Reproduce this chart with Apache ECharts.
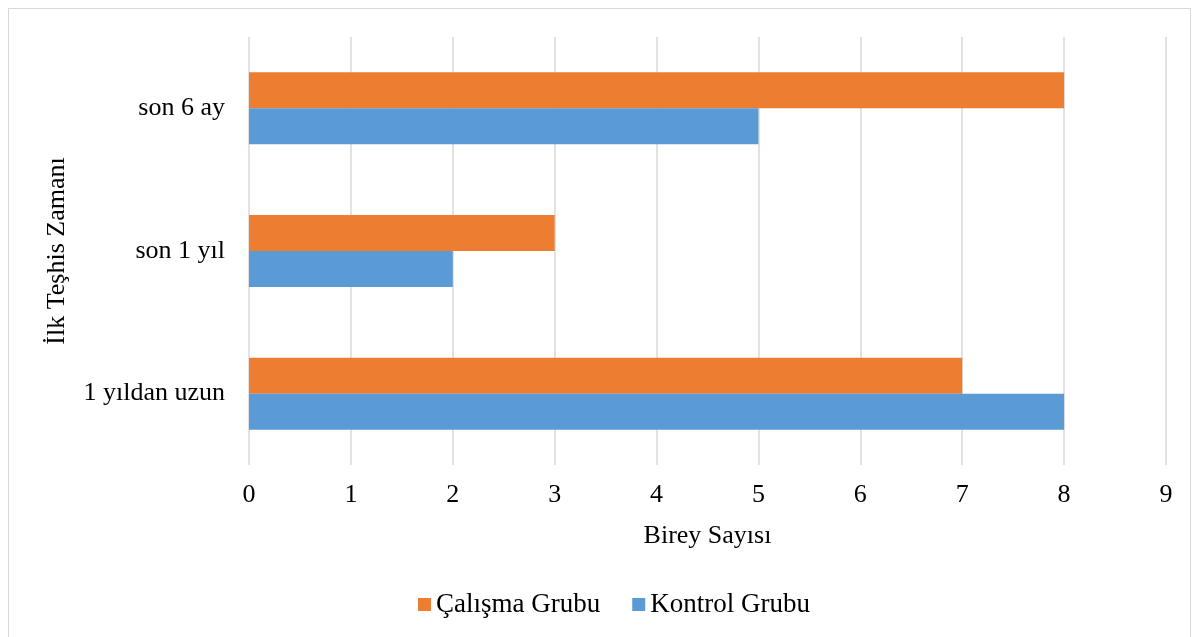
<!DOCTYPE html>
<html>
<head>
<meta charset="utf-8">
<script src="https://cdn.jsdelivr.net/npm/echarts@6/dist/echarts.min.js"></script>
<style>
  html, body { margin: 0; padding: 0; background: #fff; overflow: hidden; }
  #frame { position: absolute; left: 8px; top: 8px; width: 1181px; height: 660px; border: 1px solid #d9d9d9; }
  #main-chart { position: absolute; left: 0; top: 0; width: 1200px; height: 637px; }
</style>
</head>
<body>
<div id="frame"></div>
<div id="main-chart"></div>
<script>
// kategoriler alttan üste
const categories = ['1 yıldan uzun', 'son 1 yıl', 'son 6 ay'];
const kontrolGrubu = [8, 2, 5];
const calismaGrubu = [7, 3, 8];
const xTicks = [0, 1, 2, 3, 4, 5, 6, 7, 8, 9];

const font = 'Liberation Serif, Times New Roman, serif';
let chart = echarts.init(document.getElementById('main-chart'));

chart.setOption({
    backgroundColor: 'transparent',
    textStyle: { fontFamily: font },
    legend: {
        data: ['Çalışma Grubu', 'Kontrol Grubu'],
        bottom: 14,
        left: 413,
        itemWidth: 13,
        itemHeight: 13,
        itemGap: 32,
        itemTextGap: 4,
        icon: 'rect',
        textStyle: { fontFamily: font, fontSize: 27, color: '#000' }
    },
    grid: { left: 249, right: 34, top: 37, bottom: 172 },
    xAxis: {
        type: 'value',
        min: xTicks[0],
        max: xTicks[xTicks.length - 1],
        interval: 1,
        name: 'Birey Sayısı',
        nameLocation: 'middle',
        nameGap: 58,
        nameTextStyle: { fontFamily: font, fontSize: 26, color: '#000' },
        axisLine: { show: false },
        axisTick: { show: false },
        axisLabel: { fontFamily: font, fontSize: 26, color: '#000', margin: 17 },
        splitLine: { show: true, lineStyle: { color: '#d9d9d9', width: 1.5 } }
    },
    yAxis: {
        type: 'category',
        data: categories,
        name: 'İlk Teşhis Zamanı',
        nameLocation: 'middle',
        nameRotate: 90,
        nameGap: 179,
        nameTextStyle: { fontFamily: font, fontSize: 26, color: '#000' },
        axisLine: { show: false },
        axisTick: { show: false },
        axisLabel: { fontFamily: font, fontSize: 26, color: '#000', margin: 24 }
    },
    series: [
        {
            name: 'Çalışma Grubu',
            type: 'bar',
            data: calismaGrubu,
            barWidth: 36,
            barGap: '0%',
            itemStyle: { color: '#ed7d31' }
        },
        {
            name: 'Kontrol Grubu',
            type: 'bar',
            data: kontrolGrubu,
            barWidth: 36,
            barGap: '0%',
            itemStyle: { color: '#5b9bd5' }
        }
    ]
});
</script>
</body>
</html>
